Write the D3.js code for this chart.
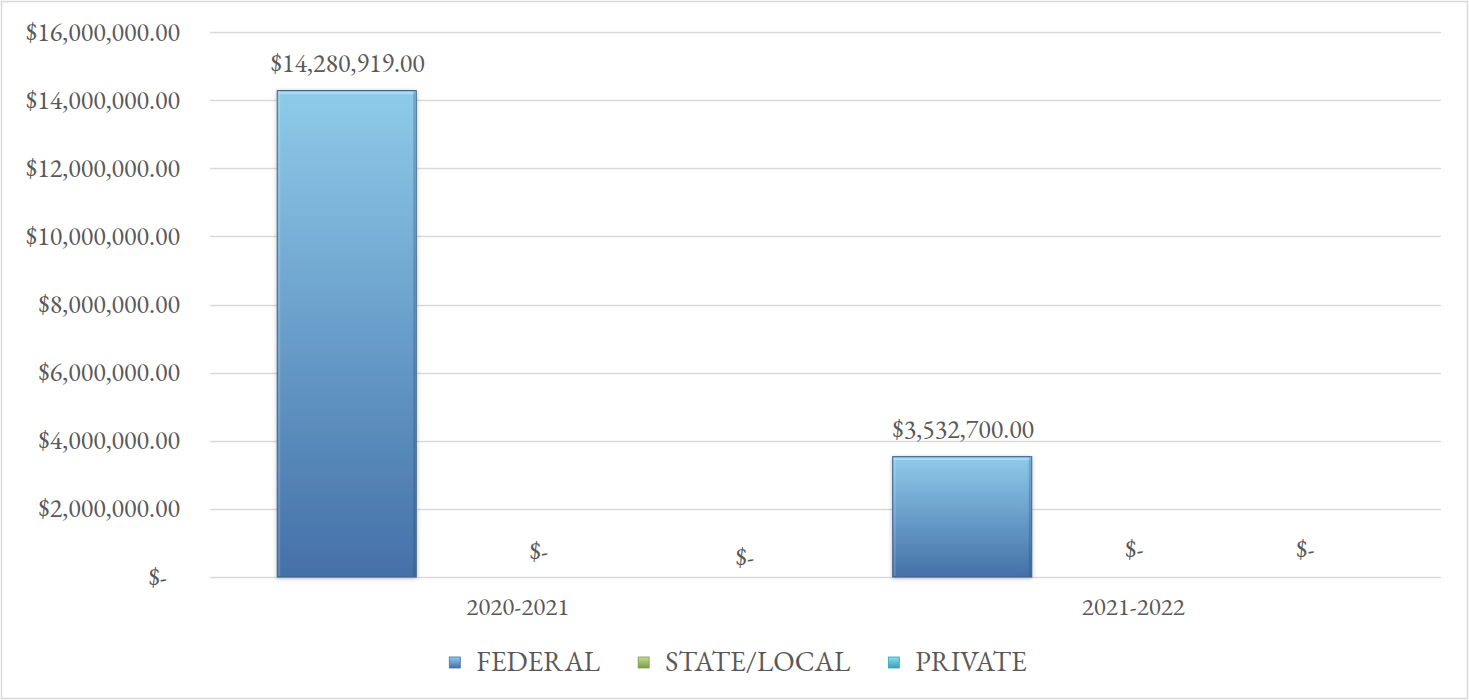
<!DOCTYPE html>
<html><head><meta charset="utf-8">
<script src="https://cdn.jsdelivr.net/npm/d3@7"></script>
<style>body{margin:0;background:#fff}svg{display:block}</style>
</head><body>
<svg id="c" width="1469" height="700"></svg>
<script>
const categories = ["2020-2021", "2021-2022"];
const seriesNames = ["FEDERAL", "STATE/LOCAL", "PRIVATE"];
const federal = [14280919, 3532700];
const stateLocal = [0, 0];
const privateVals = [0, 0];
const yTicks = [0, 2000000, 4000000, 6000000, 8000000, 10000000, 12000000, 14000000, 16000000];

const seriesValues = [federal, stateLocal, privateVals];
const colorsTop = ["#8ecbea", "#c3d99a", "#8fdcea"];
const colorsBot = ["#4470a8", "#7f9b45", "#35a0b6"];
const FONT = "'EB Garamond', 'Liberation Serif', 'Times New Roman', serif";
const TXT = "#595959";
// manual nudges of some data labels (as placed in the original chart)
const labelNudge = {"2020-2021|STATE/LOCAL": [20, 2], "2020-2021|PRIVATE": [55, 8]};

const svg = d3.select("#c");
const W = 1469, H = 700;
const M = {l: 210, r: 28, t: 32, b: 123};

svg.append("rect").attr("x", 1.5).attr("y", 1.5).attr("width", W - 3).attr("height", H - 3)
  .attr("fill", "#fff").attr("stroke", "#d9d9d9").attr("stroke-width", 1.5);

const defs = svg.append("defs");
seriesNames.forEach((s, i) => {
  const g = defs.append("linearGradient").attr("id", "g" + i).attr("x1", 0).attr("y1", 0).attr("x2", 0).attr("y2", 1);
  g.append("stop").attr("offset", "0%").attr("stop-color", colorsTop[i]);
  g.append("stop").attr("offset", "100%").attr("stop-color", colorsBot[i]);
});
const f = defs.append("filter").attr("id", "sh").attr("x", "-10%").attr("y", "-10%").attr("width", "120%").attr("height", "120%");
f.append("feDropShadow").attr("dx", 0).attr("dy", 1).attr("stdDeviation", 2).attr("flood-color", "#000").attr("flood-opacity", 0.25);

const y = d3.scaleLinear().domain([0, 16000000]).range([H - M.b, M.t]);
const x0 = d3.scaleBand().domain(categories).range([M.l, W - M.r]).padding(0);
const bw = x0.bandwidth();
const x1 = d3.scaleBand().domain(seriesNames).range([0, bw]).paddingInner(0.187).paddingOuter(0.393);

// gridlines
svg.append("g").selectAll("line").data(yTicks).join("line")
  .attr("x1", M.l).attr("x2", W - M.r)
  .attr("y1", d => Math.round(y(d)) + 0.5).attr("y2", d => Math.round(y(d)) + 0.5)
  .attr("stroke", "#d9d9d9").attr("stroke-width", 1.5);

const fmt = d => d === 0 ? "$-" : "$" + d3.format(",.2f")(d);

function styleText(sel, size, ls) {
  sel.attr("font-family", FONT).attr("font-size", size).attr("fill", TXT)
     .attr("letter-spacing", ls || 0);
}

// y labels
svg.append("g").selectAll("text").data(yTicks).join("text")
  .attr("x", d => d === 0 ? 167 : 180).attr("y", d => y(d)).attr("dy", "0.33em")
  .attr("text-anchor", "end").text(fmt).call(styleText, 26, 0);

// bars
const rows = [];
categories.forEach((c, ci) => seriesNames.forEach((s, si) => rows.push({c, s, si, v: seriesValues[si][ci]})));

const bars = svg.append("g");
rows.filter(r => r.v > 0).forEach(r => {
  const bx = x0(r.c) + x1(r.s), by = y(r.v), bh = y(0) - y(r.v), w = x1.bandwidth();
  bars.append("rect").attr("x", bx).attr("y", by).attr("width", w).attr("height", bh)
    .attr("fill", `url(#g${r.si})`).attr("stroke", "#3a5f8f").attr("stroke-width", 1).attr("filter", "url(#sh)");
  bars.append("rect").attr("x", bx + 1.5).attr("y", by + 1.5).attr("width", w - 3).attr("height", 2)
    .attr("fill", "#b5e0f5").attr("opacity", 0.8);
  bars.append("rect").attr("x", bx + 1).attr("y", by + 1).attr("width", 2).attr("height", bh - 2)
    .attr("fill", "#fff").attr("opacity", 0.15);
  bars.append("rect").attr("x", bx + w - 3).attr("y", by + 1).attr("width", 2).attr("height", bh - 2)
    .attr("fill", "#1f3f66").attr("opacity", 0.25);
});

// data labels
const nud = r => labelNudge[r.c + "|" + r.s] || [0, 0];
svg.append("g").selectAll("text").data(rows).join("text")
  .attr("x", r => x0(r.c) + x1(r.s) + x1.bandwidth() / 2 + 1 + nud(r)[0])
  .attr("y", r => (r.v > 0 ? y(r.v) - 19 : y(0) - 19) + nud(r)[1])
  .attr("text-anchor", "middle").text(r => fmt(r.v)).call(styleText, 26, 0);

// category labels
svg.append("g").selectAll("text").data(categories).join("text")
  .attr("x", c => x0(c) + bw / 2).attr("y", 615).attr("text-anchor", "middle")
  .text(c => c).call(styleText, 25, 0);

// legend (centred)
const lg = svg.append("g");
const items = seriesNames.map((s, i) => {
  const g = lg.append("g");
  g.append("rect").attr("x", 0).attr("y", 657).attr("width", 11).attr("height", 11)
    .attr("fill", `url(#g${i})`).attr("stroke", colorsBot[i]).attr("stroke-width", 0.8);
  const t = g.append("text").attr("x", 27).attr("y", 671).text(s).call(styleText, 28, 0);
  return {g, w: 27 + t.node().getComputedTextLength()};
});
const gap = 38;
const total = d3.sum(items, d => d.w) + gap * (items.length - 1);
let cx = 738 - total / 2;
items.forEach(it => { it.g.attr("transform", `translate(${cx},0)`); cx += it.w + gap; });
</script>
</body></html>
